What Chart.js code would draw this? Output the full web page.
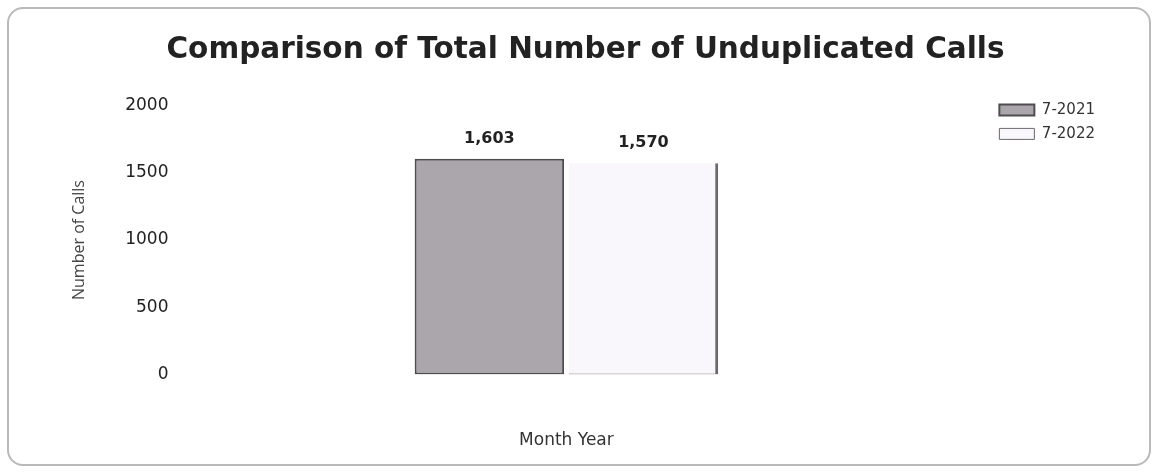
<!DOCTYPE html>
<html>
<head>
<meta charset="utf-8">
<script src="https://cdn.jsdelivr.net/npm/chart.js"></script>
<style>
  body { margin: 0; background: #fff; }
  #card {
    position: absolute; left: 7px; top: 7px; width: 1140px; height: 455px;
    border: 2px solid #b9b9bb; border-radius: 16px; background: #fff;
  }
  #wrap { position: absolute; left: 0; top: 0; width: 1140px; height: 455px; }
</style>
</head>
<body>
<div id="card"><div id="wrap"><canvas id="callsChart"></canvas></div></div>
<script>
// datos
const categories = [''];
const seriesNames = ['7-2021', '7-2022'];
const calls2021 = [1603];
const calls2022 = [1570];
const yTicks = [0, 500, 1000, 1500, 2000];

// etiquetas sobre cada barra
const valueLabels = {
  id: 'valueLabels',
  afterDatasetsDraw(chart) {
    const ctx = chart.ctx;
    ctx.save();
    ctx.font = 'bold 16px "DejaVu Sans"';
    ctx.fillStyle = '#222';
    ctx.textAlign = 'center';
    ctx.textBaseline = 'middle';
    chart.data.datasets.forEach((ds, i) => {
      chart.getDatasetMeta(i).data.forEach((bar, j) => {
        ctx.fillText(ds.data[j].toLocaleString('en-US'), bar.x, bar.y - 20);
      });
    });
    ctx.restore();
  }
};

const ctx = document.getElementById('callsChart').getContext('2d');
const callsChart = new Chart(ctx, {
  type: 'bar',
  data: {
    labels: categories,
    datasets: [
      {
        label: seriesNames[0],
        data: calls2021,
        backgroundColor: '#aba6ac',
        borderColor: '#4f4c50',
        borderWidth: 2,
        borderSkipped: false
      },
      {
        label: seriesNames[1],
        data: calls2022,
        backgroundColor: '#faf7fc',
        borderColor: '#6a686b',
        borderWidth: { left: 0, top: 0, right: 3, bottom: 1 },
        borderSkipped: false
      }
    ]
  },
  options: {
    responsive: true,
    maintainAspectRatio: false,
    animation: false,
    layout: { padding: { left: 57, right: 44, top: 10, bottom: 9 } },
    plugins: {
      title: {
        display: true,
        text: 'Comparison of Total Number of Unduplicated Calls',
        color: '#222',
        font: { family: '"DejaVu Sans"', size: 29.5, weight: 'bold' },
        padding: { top: 14, bottom: 37 }
      },
      legend: {
        position: 'right',
        align: 'start',
        title: { display: true, text: ' ', padding: { top: 60, bottom: 0 } },
        labels: {
          color: '#333',
          font: { family: '"DejaVu Sans"', size: 15 },
          boxWidth: 35,
          boxHeight: 11,
          padding: 9
        }
      },
      tooltip: { enabled: false }
    },
    datasets: { bar: { categoryPercentage: 0.412, barPercentage: 0.97 } },
    scales: {
      x: {
        grid: { display: false },
        border: { display: false },
        ticks: { display: false },
        title: {
          display: true,
          text: 'Month Year',
          color: '#333',
          font: { family: '"DejaVu Sans"', size: 17 },
          padding: { top: 48 }
        }
      },
      y: {
        min: 0,
        max: 2000,
        afterBuildTicks(scale) { scale.ticks = yTicks.map(v => ({ value: v })); },
        grid: { display: false },
        border: { display: false },
        ticks: {
          color: '#222',
          font: { family: '"DejaVu Sans"', size: 17 },
          padding: 16,
          callback: v => String(v)
        },
        title: {
          display: true,
          text: 'Number of Calls',
          color: '#444',
          font: { family: '"Open Sans"', size: 16 },
          padding: { bottom: 20 }
        }
      },
      // espacio vacio entre el grafico y la leyenda
      gap: {
        type: 'linear',
        position: 'right',
        display: true,
        grid: { display: false },
        border: { display: false },
        ticks: { display: false },
        afterFit(scale) { scale.width = 50; }
      }
    }
  },
  plugins: [valueLabels]
});
</script>
</body>
</html>
